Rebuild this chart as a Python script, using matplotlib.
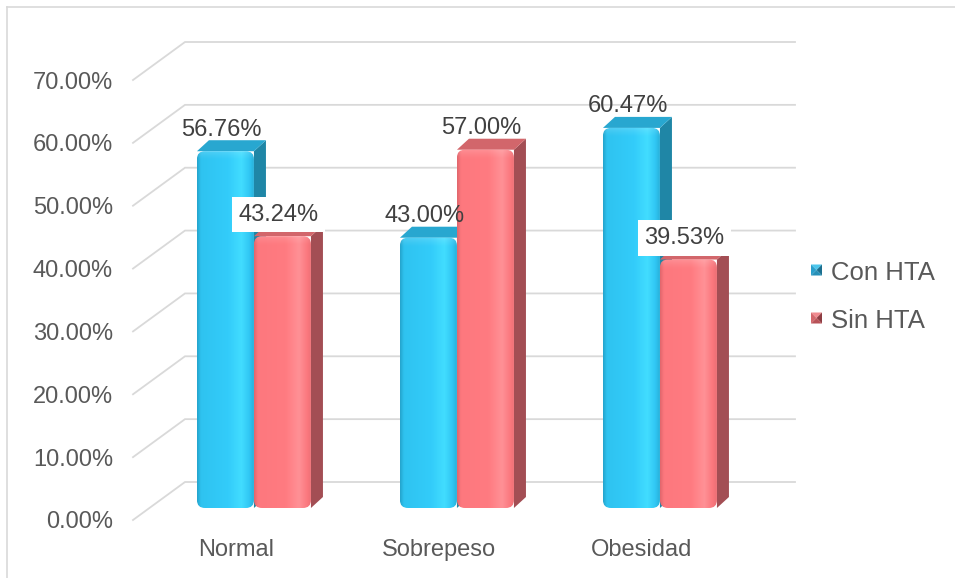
import numpy as np
import matplotlib
matplotlib.use("Agg")
import matplotlib.pyplot as plt
from matplotlib.patches import Polygon, FancyBboxPatch
from matplotlib.lines import Line2D
from matplotlib.colors import LinearSegmentedColormap

plt.rcParams["font.family"] = ["Liberation Sans", "DejaVu Sans"]

# ---- data ----
categories = ["Normal", "Sobrepeso", "Obesidad"]
con_hta = [56.76, 43.00, 60.47]
sin_hta = [43.24, 57.00, 39.53]
series_names = ["Con HTA", "Sin HTA"]
y_ticks = [0, 10, 20, 30, 40, 50, 60, 70]
tick_labels = [f"{t:.2f}%" for t in y_ticks]

# ---- figure / plane of the bar fronts ----
W, H = 955, 578
fig = plt.figure(figsize=(W / 100, H / 100), dpi=100)
fig.patch.set_facecolor("white")

AX_L, AX_R, AX_B, AX_T = 149, 759, 508, 68
ax = fig.add_axes([AX_L / W, (H - AX_B) / H, (AX_R - AX_L) / W, (AX_B - AX_T) / H])
XMIN = -0.517
XMAX = XMIN + (AX_R - AX_L) / 203.0
YMAX = 70
ax.set_xlim(XMIN, XMAX)
ax.set_ylim(0, YMAX)
ax.axis("off")

PX_X = (XMAX - XMIN) / (AX_R - AX_L)   # data units per pixel
PX_Y = YMAX / (AX_B - AX_T)


def off(x, y, dx, dy):
    """Shift a data point by a screen offset in pixels."""
    return (x + dx * PX_X, y + dy * PX_Y)


FRONT = (-16, -12)     # front edge of the floor relative to bar plane
BACK = (36, 26)        # back wall relative to bar plane
DEPTH = (12, 11)       # depth of each bar
TXT_DROP = -2.5        # optical vertical centring of text

GRID = "#d9d9d9"
TXT = "#595959"
LBL = "#404040"

# ---- walls: gridlines on side wall and back wall ----
for t, lab in zip(y_ticks, tick_labels):
    p0 = off(XMIN, t, *FRONT)
    p1 = off(XMIN, t, *BACK)
    p2 = off(XMAX, t, *BACK)
    ax.plot([p0[0], p1[0], p2[0]], [p0[1], p1[1], p2[1]], color=GRID, lw=1.3,
            clip_on=False, zorder=1, solid_joinstyle="miter")
    tx, ty = off(XMIN, t, FRONT[0] - 20, FRONT[1] + TXT_DROP)
    ax.text(tx, ty, lab, ha="right", va="center", fontsize=17, color=TXT,
            clip_on=False)

# ---- bar styling ----
styles = [
    dict(front=[(0.0, "#24a3cc"), (0.07, "#2fc3f0"), (0.55, "#33ccfa"),
                (0.78, "#42ddff"), (0.92, "#31c7f4"), (1.0, "#28b0da")],
         side="#1f86a6", top="#28a7d0"),
    dict(front=[(0.0, "#e0666c"), (0.07, "#fd787e"), (0.55, "#ff7b81"),
                (0.78, "#ff9196"), (0.92, "#fb787e"), (1.0, "#ec6e74")],
         side="#a34e54", top="#d2666b"),
]
cmaps = [LinearSegmentedColormap.from_list(f"face{k}", s["front"]) for k, s in enumerate(styles)]

# soft highlight along the bevelled top of each front face
bevel = np.zeros((32, 1, 4))
bevel[..., :3] = 1.0
bevel[:, 0, 3] = np.linspace(0.0, 0.16, 32) ** 1.5 / 0.16 ** 0.5

BW = 57 / 203.0
BEVEL_PX = 10
grad = np.linspace(0, 1, 256).reshape(1, -1)
series = [con_hta, sin_hta]

for i in range(len(categories)):
    for s, vals in enumerate(series):
        v = vals[i]
        x0 = i - BW + s * BW
        x1 = x0 + BW
        z = 2 + 3 * s
        st = styles[s]
        side = Polygon([(x1, 0), off(x1, 0, *DEPTH), off(x1, v, *DEPTH), (x1, v)],
                       closed=True, fc=st["side"], ec="none", zorder=z, clip_on=False)
        top = Polygon([(x0, v), (x1, v), off(x1, v, *DEPTH), off(x0, v, *DEPTH)],
                      closed=True, fc=st["top"], ec="none", zorder=z, clip_on=False,
                      joinstyle="round", lw=0)
        ax.add_patch(side)
        ax.add_patch(top)
        face = FancyBboxPatch((x0, 0), BW, v,
                              boxstyle=f"round,pad=0,rounding_size={8 * PX_X}",
                              mutation_aspect=PX_Y / PX_X,
                              fc="none", ec="none", zorder=z + 1, clip_on=False)
        ax.add_patch(face)
        im = ax.imshow(grad, cmap=cmaps[s], extent=[x0, x1, 0, v], aspect="auto",
                       origin="lower", interpolation="bilinear", zorder=z + 1)
        im.set_clip_path(face)
        hb = ax.imshow(bevel, extent=[x0, x1, v - BEVEL_PX * PX_Y, v], aspect="auto",
                       origin="lower", interpolation="bilinear", zorder=z + 1.5)
        hb.set_clip_path(face)

        # value label above the bar
        lx, ly = off((x0 + x1) / 2, v, -4, 24 + TXT_DROP)
        boxed = s == 1 and series[0][i] > v
        ax.text(lx, ly, f"{v:.2f}%", ha="center", va="center", fontsize=17,
                color=LBL, zorder=20, clip_on=False,
                bbox=dict(boxstyle="square,pad=0.28", fc="white", ec="none") if boxed else None)

ax.set_xlim(XMIN, XMAX)
ax.set_ylim(0, YMAX)

# ---- category labels (shared baseline) ----
for i, cat in enumerate(categories):
    cx, cy = off(i, 0, -18, -48)
    ax.text(cx, cy, cat, ha="center", va="baseline", fontsize=17, color=TXT, clip_on=False)

# ---- legend ----
def fx(px):
    return px / W


def fy(py):
    return 1 - py / H


legend_tones = [
    ("#4cc6ec", "#2a9fcc", "#1b6f8f", "#2790b8"),
    ("#f08a8f", "#d2666b", "#8e3c42", "#b85258"),
]
for k, (name, tones) in enumerate(zip(series_names, legend_tones)):
    cy = 270 + 48 * k
    l, r, t, b = 811, 822, cy - 5.5, cy + 5.5
    mx, my = (l + r) / 2, cy
    tris = [
        [(l, t), (r, t), (mx, my)],   # top
        [(l, t), (l, b), (mx, my)],   # left
        [(r, t), (r, b), (mx, my)],   # right
        [(l, b), (r, b), (mx, my)],   # bottom
    ]
    for tri, col in zip(tris, tones):
        fig.add_artist(Polygon([(fx(a), fy(c)) for a, c in tri], closed=True,
                               fc=col, ec="none", transform=fig.transFigure))
    fig.text(fx(831), fy(cy + 2.5), name, ha="left", va="center", fontsize=18.5, color=TXT)

# ---- chart frame ----
fig.add_artist(Line2D([fx(7), fx(7)], [0, fy(7)], color=GRID, lw=1.2,
                      transform=fig.transFigure))
fig.add_artist(Line2D([fx(7), 1], [fy(7), fy(7)], color=GRID, lw=1.2,
                      transform=fig.transFigure))

fig.savefig("out.png", dpi=100)
